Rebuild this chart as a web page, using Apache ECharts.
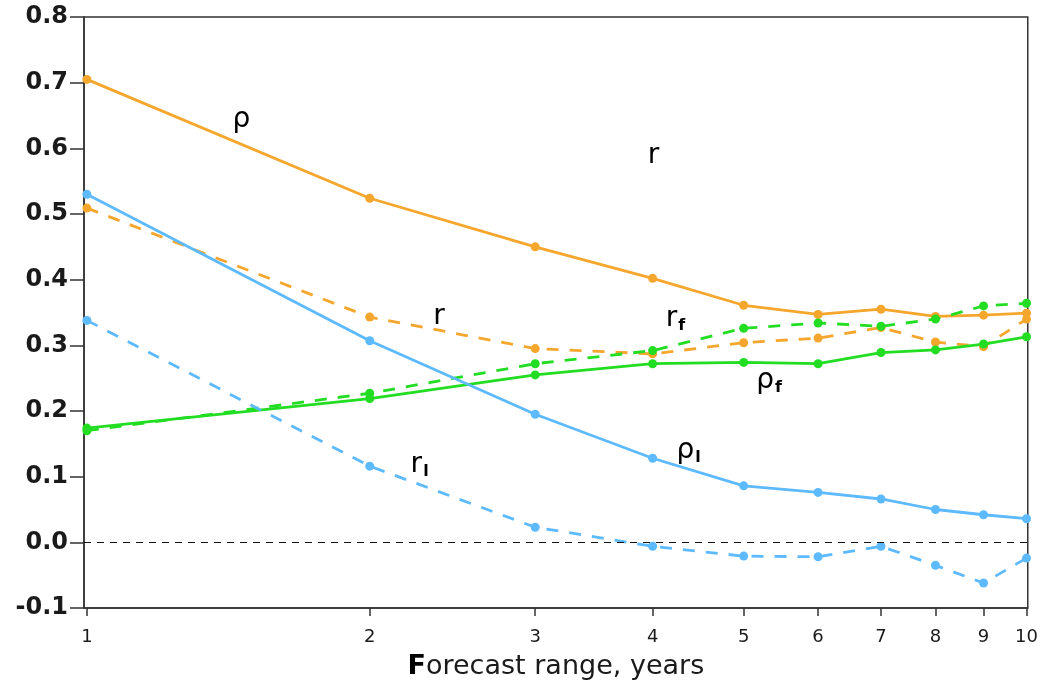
<!DOCTYPE html>
<html>
<head>
<meta charset="utf-8">
<script src="https://cdn.jsdelivr.net/npm/echarts@6/dist/echarts.min.js"></script>
<style>
  html, body { margin: 0; padding: 0; background: #fff; }
  #chart { width: 1041px; height: 685px; }
</style>
</head>
<body>
<div id="chart"></div>
<script>
  // forecast range in years
  const years = [1, 2, 3, 4, 5, 6, 7, 8, 9, 10];
  const xTicks = [1, 2, 3, 4, 5, 6, 7, 8, 9, 10];

  // orange: total
  const rho = [0.705, 0.524, 0.450, 0.402, 0.361, 0.347, 0.355, 0.344, 0.346, 0.349];
  const r = [0.509, 0.343, 0.295, 0.287, 0.304, 0.311, 0.327, 0.305, 0.298, 0.340];
  // green: f
  const rhoF = [0.174, 0.219, 0.255, 0.272, 0.274, 0.272, 0.289, 0.293, 0.302, 0.313];
  const rF = [0.170, 0.227, 0.272, 0.292, 0.326, 0.334, 0.329, 0.340, 0.360, 0.364];
  // blue: l
  const rhoL = [0.530, 0.307, 0.195, 0.128, 0.086, 0.076, 0.066, 0.050, 0.042, 0.036];
  const rL = [0.338, 0.116, 0.023, -0.006, -0.021, -0.022, -0.006, -0.035, -0.062, -0.024];

  // curve labels [year, value, text]
  const notes = [
    [1.46, 0.644, 'ρ'],
    [4.01, 0.589, 'r'],
    [2.37, 0.344, 'r'],
    [4.23, 0.341, 'r{s|f}'],
    [5.32, 0.246, 'ρ{s|f}'],
    [4.37, 0.140, 'ρ{s|l}'],
    [2.26, 0.118, 'r{s|l}']
  ];

  const ORANGE = '#F5A62C';
  const GREEN = '#22DD22';
  const BLUE = '#5DBAFF';
  const FONT = 'DejaVu Sans';

  const pair = (a, b) => years.map((y, i) => [y, b[i]]);

  function line(name, vals, color, dashed) {
    return {
      name: name,
      type: 'line',
      data: pair(years, vals),
      symbol: 'circle',
      symbolSize: 9,
      itemStyle: {color: color},
      lineStyle: {color: color, width: 2.8, type: dashed ? [12, 11] : 'solid'},
      animation: false,
      z: 3
    };
  }

  const chart = echarts.init(document.getElementById('chart'));

  chart.setOption({
    backgroundColor: '#fff',
    grid: {
      left: 84, right: 10, top: 17, bottom: 72,
      show: true, borderColor: '#333', borderWidth: 1.5
    },
    xAxis: {
      type: 'log',
      logBase: 10,
      min: 0.993,
      max: 10.03,
      name: '{b|F}orecast range, years',
      nameLocation: 'middle',
      nameGap: 45,
      nameTextStyle: {
        fontFamily: FONT, fontSize: 27, color: '#1a1a1a',
        rich: {b: {fontFamily: FONT, fontSize: 27, fontWeight: 'bold', color: '#000'}}
      },
      axisLine: {onZero: false, lineStyle: {color: '#333', width: 1.5}},
      axisTick: {show: true, length: 8, customValues: xTicks, lineStyle: {color: '#333', width: 1.5}},
      axisLabel: {
        customValues: xTicks, margin: 20,
        fontFamily: FONT, fontSize: 18, color: '#1a1a1a',
        formatter: v => String(Math.round(v))
      },
      splitLine: {show: false}
    },
    yAxis: {
      type: 'value',
      min: -0.1,
      max: 0.8,
      interval: 0.1,
      axisLine: {show: true, lineStyle: {color: '#333', width: 1.5}},
      axisTick: {show: true, length: 14, lineStyle: {color: '#333', width: 1.5}},
      axisLabel: {
        margin: 16, fontFamily: FONT, fontSize: 24, fontWeight: 'bold', color: '#1a1a1a',
        formatter: v => v.toFixed(1)
      },
      splitLine: {show: false}
    },
    series: [
      line('ρ', rho, ORANGE, false),
      line('r', r, ORANGE, true),
      line('ρf', rhoF, GREEN, false),
      line('rf', rF, GREEN, true),
      Object.assign(line('ρl', rhoL, BLUE, false), {
        markLine: {
          silent: true,
          symbol: 'none',
          label: {show: false},
          lineStyle: {color: '#111', width: 1.2, type: [7, 6]},
          data: [{yAxis: 0}]
        }
      }),
      line('rl', rL, BLUE, true),
      {
        type: 'scatter',
        data: notes.map(n => ({value: [n[0], n[1]], label: {formatter: n[2]}})),
        symbolSize: 0,
        silent: true,
        animation: false,
        itemStyle: {opacity: 1},
        label: {
          show: true,
          position: 'inside',
          fontFamily: FONT,
          fontSize: 28,
          color: '#000',
          opacity: 1,
          textBorderWidth: 0,
          textBorderColor: 'transparent',
          rich: {s: {fontFamily: FONT, fontSize: 16, fontWeight: 'bold', color: '#000',
            textBorderWidth: 0, padding: [14, 0, 0, 1]}}
        },
        z: 5
      }
    ]
  });
</script>
</body>
</html>
